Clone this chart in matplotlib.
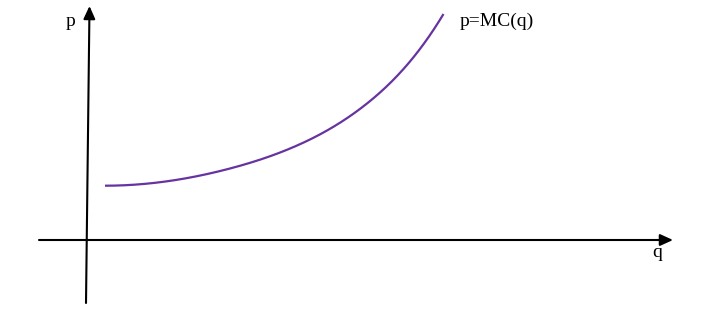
import matplotlib
matplotlib.use("Agg")
import matplotlib.pyplot as plt
import numpy as np

# Data (q, p) in diagram units: origin where axes cross
q_vals = [18, 80, 146, 213, 280, 320, 356.5]
mc_vals = [54.3, 58.7, 72.3, 95.8, 136.5, 175, 226]

x_axis = (-48, 586)   # horizontal axis extent
y_axis_bottom = (-1, -63)
y_axis_top = (2.5, 234)

curve_color = "#6633a0"


def spline(x, y, xs):
    """Cubic spline with not-a-knot ends."""
    x = np.asarray(x, float)
    y = np.asarray(y, float)
    n = len(x)
    h = np.diff(x)
    A = np.zeros((n, n))
    b = np.zeros(n)
    A[0, 0], A[0, 1], A[0, 2] = h[1], -(h[0] + h[1]), h[0]
    A[-1, -3], A[-1, -2], A[-1, -1] = h[-1], -(h[-2] + h[-1]), h[-2]
    for i in range(1, n - 1):
        A[i, i - 1] = h[i - 1]
        A[i, i] = 2 * (h[i - 1] + h[i])
        A[i, i + 1] = h[i]
        b[i] = 6 * ((y[i + 1] - y[i]) / h[i] - (y[i] - y[i - 1]) / h[i - 1])
    M = np.linalg.solve(A, b)
    idx = np.clip(np.searchsorted(x, xs) - 1, 0, n - 2)
    x0, x1 = x[idx], x[idx + 1]
    hh = x1 - x0
    t0, t1 = x1 - xs, xs - x0
    return (M[idx] * t0 ** 3 / (6 * hh) + M[idx + 1] * t1 ** 3 / (6 * hh)
            + (y[idx] / hh - M[idx] * hh / 6) * t0
            + (y[idx + 1] / hh - M[idx + 1] * hh / 6) * t1)


fig = plt.figure(figsize=(7.2, 3.28), dpi=100)
ax = fig.add_axes([0, 0, 1, 1])
ax.set_xlim(-87, 633)
ax.set_ylim(-88, 240)
ax.axis("off")

qs = np.linspace(q_vals[0], q_vals[-1], 400)
ax.plot(qs, spline(q_vals, mc_vals, qs), color=curve_color, lw=1.6,
        solid_capstyle="butt")

arrow = dict(arrowstyle="-|>,head_length=0.55,head_width=0.25", color="black",
             lw=1.5, mutation_scale=14, shrinkA=0, shrinkB=0)
ax.annotate("", xy=(x_axis[1], 0), xytext=(x_axis[0], 0), arrowprops=arrow)
ax.annotate("", xy=y_axis_top, xytext=y_axis_bottom, arrowprops=arrow)

font = dict(family="Liberation Serif", fontsize=14, color="black")
ax.text(-21, 214, "p", ha="left", va="baseline", **font)
ax.text(565, -17, "q", ha="left", va="baseline", **font)
ax.text(373, 214, "p=MC(q)", ha="left", va="baseline", **font)

fig.savefig("out.png", dpi=100)
